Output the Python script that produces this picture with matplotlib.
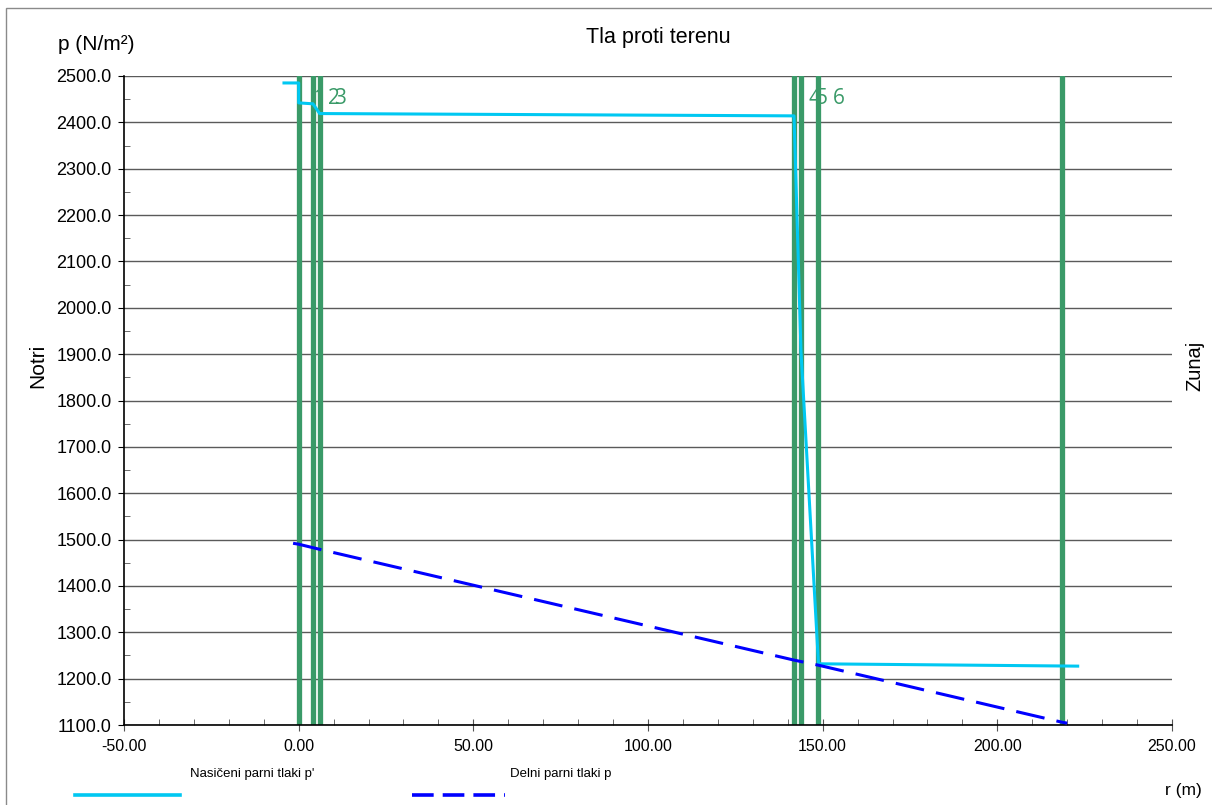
import matplotlib
matplotlib.use("Agg")
import matplotlib.pyplot as plt
from matplotlib.lines import Line2D
from matplotlib.patches import Rectangle
from matplotlib.ticker import MultipleLocator, FormatStrFormatter

plt.rcParams['font.family'] = ['Liberation Sans', 'DejaVu Sans']

# layer boundaries (m) and their labels
boundaries = [0.0, 4.1, 6.0, 141.8, 143.8, 148.8, 218.5]
boundary_labels = ['1', '2', '3', '4', '5', '6', '']

# saturated vapour pressure p'
sat_r = [-4.2, 0.0, 0.0, 4.1, 6.0, 141.8, 143.8, 148.8, 223.0]
sat_p = [2485, 2485, 2442, 2440, 2419, 2414, 1905, 1232, 1227]

# partial vapour pressure p
part_r = [-1.6, 0.0, 6.0, 141.8, 148.8, 218.5, 220.0]
part_p = [1492, 1490, 1479, 1240, 1229, 1106, 1104]

green = '#3a9a68'
cyan = '#00c8f2'
blue = '#0000ff'

fig = plt.figure(figsize=(12.12, 8.05), dpi=100)
ax = fig.add_axes([124/1212, 1-725/805, (1172-124)/1212, (725-76)/805])

for xb, lab in zip(boundaries, boundary_labels):
    ax.axvline(xb, color=green, lw=3.8, zorder=2)
    if lab:
        ax.annotate(lab, (xb, 2452), xytext=(15, 0), textcoords='offset points',
                    ha='center', va='center', color=green, fontsize=15,
                    family=['Open Sans', 'DejaVu Sans'])

ax.plot(sat_r, sat_p, color=cyan, lw=2.2, zorder=3)
ln, = ax.plot(part_r, part_p, color=blue, lw=2.2, zorder=3)
ln.set_dashes((9.5, 4))

ax.set_xlim(-50, 250)
ax.set_ylim(1100, 2500)
ax.xaxis.set_major_locator(MultipleLocator(50))
ax.xaxis.set_minor_locator(MultipleLocator(10))
ax.yaxis.set_major_locator(MultipleLocator(100))
ax.yaxis.set_minor_locator(MultipleLocator(50))
ax.xaxis.set_major_formatter(FormatStrFormatter('%.2f'))
ax.yaxis.set_major_formatter(FormatStrFormatter('%.1f'))
ax.grid(axis='y', which='major', color='#5a5a5a', lw=1.0, zorder=1)
ax.set_axisbelow(True)

for s in ['top', 'right']:
    ax.spines[s].set_visible(False)
ax.spines['left'].set_linewidth(1.2)
ax.spines['bottom'].set_linewidth(1.2)
ax.tick_params(axis='x', which='major', direction='inout', length=8, labelsize=11.5, pad=6, color='#555555')
ax.tick_params(axis='x', which='minor', direction='in', length=4, color='#555555')
ax.tick_params(axis='y', which='major', direction='out', length=4, labelsize=13, pad=5)
ax.tick_params(axis='y', which='minor', direction='in', length=4, color='#555555')

fig.text(658/1212, 1-37/805, 'Tla proti terenu', ha='center', va='center', fontsize=15.5)
fig.text(96/1212, 1-45/805, 'p (N/m²)', ha='center', va='center', fontsize=15)
fig.text(38/1212, 1-366/805, 'Notri', ha='center', va='center', rotation=90, fontsize=15)
fig.text(1195/1212, 1-366/805, 'Zunaj', ha='center', va='center', rotation=90, fontsize=14.5)
fig.text(1183/1212, 1-790/805, 'r (m)', ha='center', va='center', fontsize=12.5)

# legend
fig.text(190/1212, 1-774/805, "Nasičeni parni tlaki p'", ha='left', va='center', fontsize=9.5)
fig.text(510/1212, 1-774/805, 'Delni parni tlaki p', ha='left', va='center', fontsize=9.5)
fig.add_artist(Line2D([75/1212, 180/1212], [1-795/805, 1-795/805], color=cyan, lw=2.6))
leg = Line2D([412/1212, 505/1212], [1-795/805, 1-795/805], color=blue, lw=2.6)
leg.set_dashes((6, 2.5))
fig.add_artist(leg)

# figure frame
fig.add_artist(Rectangle((6/1212, -0.01), 1.02, 1.01 - 8/805, transform=fig.transFigure,
                         fill=False, edgecolor='#8a8a8a', lw=1.0))

fig.savefig('out.png', dpi=100)
